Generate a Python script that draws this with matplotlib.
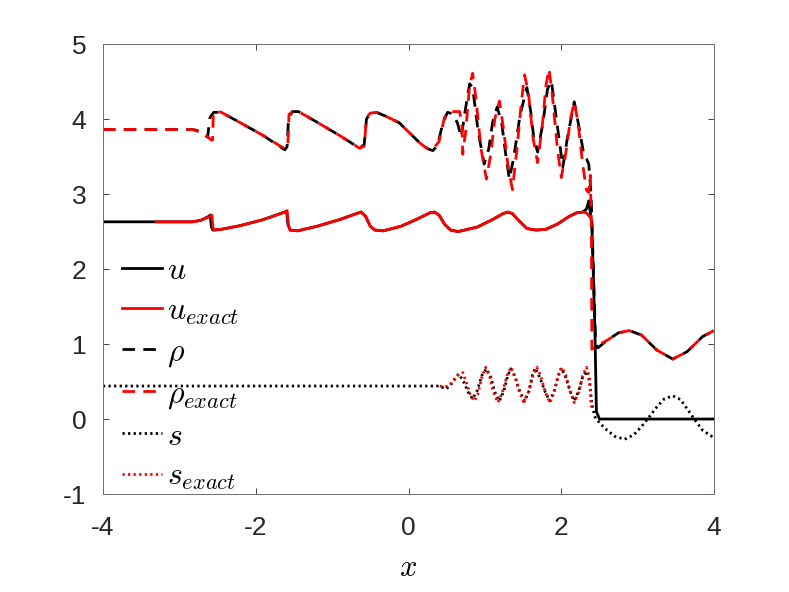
import matplotlib
matplotlib.use("Agg")
import matplotlib.pyplot as plt

plt.rcParams['font.family'] = ['Liberation Sans', 'DejaVu Sans']
plt.rcParams['mathtext.fontset'] = 'cm'
plt.rcParams['axes.unicode_minus'] = False

# numerical u
u_x = [-4.0, -2.83, -2.72, -2.62, -2.595, -2.58, -2.56, -2.45, -2.2, -1.9, -1.62, -1.595,
       -1.58, -1.55, -1.45, -1.2, -0.9, -0.68, -0.62, -0.56, -0.50, -0.44, -0.33, -0.1,
       0.1, 0.28, 0.34, 0.40, 0.47, 0.55, 0.65, 0.9, 1.1, 1.24, 1.30, 1.36, 1.44, 1.55,
       1.67, 1.8, 1.95, 2.1, 2.2, 2.28, 2.33, 2.36, 2.40, 2.44, 2.46, 2.50, 4.0]
u_y = [2.63, 2.63, 2.65, 2.70, 2.72, 2.56, 2.52, 2.53, 2.58, 2.66, 2.76, 2.77,
       2.60, 2.52, 2.51, 2.57, 2.66, 2.74, 2.76, 2.70, 2.57, 2.52, 2.51, 2.57,
       2.66, 2.75, 2.76, 2.72, 2.60, 2.52, 2.50, 2.56, 2.66, 2.74, 2.76, 2.74, 2.65, 2.54,
       2.52, 2.53, 2.60, 2.70, 2.75, 2.76, 2.80, 2.91, 2.60, 1.20, 0.10, 0.0, 0.0]

# exact u
ue_x = [-3.30, -2.83, -2.72, -2.60, -2.575, -2.56, -2.54, -2.45, -2.2, -1.9, -1.62, -1.59,
        -1.57, -1.55, -1.45, -1.2, -0.9, -0.68, -0.62, -0.56, -0.50, -0.44, -0.33, -0.1,
        0.1, 0.28, 0.34, 0.40, 0.47, 0.55, 0.65, 0.9, 1.1, 1.24, 1.30, 1.36, 1.44, 1.55,
        1.67, 1.8, 1.95, 2.1, 2.2, 2.28, 2.33, 2.37]
ue_y = [2.63, 2.63, 2.65, 2.70, 2.72, 2.55, 2.52, 2.53, 2.58, 2.66, 2.76, 2.78,
        2.58, 2.52, 2.51, 2.57, 2.66, 2.74, 2.76, 2.70, 2.57, 2.52, 2.51, 2.57,
        2.66, 2.75, 2.76, 2.72, 2.60, 2.52, 2.50, 2.56, 2.66, 2.74, 2.76, 2.74, 2.65, 2.54,
        2.52, 2.53, 2.60, 2.70, 2.75, 2.76, 2.75, 2.70]

# numerical rho
r_x = [-4.0, -2.82, -2.74, -2.66, -2.63, -2.60, -2.55, -2.45, -2.2, -1.9, -1.68, -1.62,
       -1.59, -1.57, -1.52, -1.44, -1.2, -0.9, -0.70, -0.64, -0.58, -0.55, -0.50, -0.42,
       -0.30, -0.12, 0.01, 0.15, 0.26, 0.32, 0.38, 0.45, 0.51, 0.58, 0.64, 0.69, 0.74,
       0.80, 0.84, 0.91, 0.99, 1.05, 1.10, 1.16, 1.22, 1.27, 1.32, 1.38, 1.46, 1.55,
       1.60, 1.64, 1.69, 1.76, 1.82, 1.87, 1.93, 2.02, 2.08, 2.17, 2.24, 2.30, 2.33,
       2.36, 2.39, 2.42, 2.45, 2.48, 2.6, 2.75, 2.89, 3.05, 3.25, 3.46, 3.65, 3.85, 4.0]
r_y = [3.86, 3.86, 3.84, 3.78, 3.76, 4.02, 4.09, 4.09, 3.95, 3.78, 3.63, 3.59,
       3.63, 4.02, 4.10, 4.10, 3.96, 3.78, 3.65, 3.61, 3.66, 4.00, 4.08, 4.09,
       4.04, 3.95, 3.82, 3.68, 3.60, 3.58, 3.65, 3.95, 4.09, 4.07, 3.95, 3.76, 4.10,
       4.47, 4.42, 3.85, 3.40, 3.60, 3.95, 4.16, 3.95, 3.55, 3.20, 3.50, 4.05, 4.42,
       4.10, 3.75, 3.56, 3.95, 4.40, 4.51, 4.05, 3.36, 3.75, 4.23, 3.85, 3.50, 3.47,
       3.40, 3.00, 2.00, 1.00, 0.95, 1.05, 1.15, 1.18, 1.12, 0.92, 0.80, 0.90, 1.10, 1.18]

# exact rho
re_x = [-4.0, -2.82, -2.74, -2.65, -2.58, -2.565, -2.555, -2.52, -2.45, -2.2, -1.9, -1.68,
        -1.62, -1.58, -1.565, -1.52, -1.44, -1.2, -0.9, -0.70, -0.64, -0.58, -0.55, -0.50,
        -0.42, -0.30, -0.12, 0.01, 0.15, 0.24, 0.31, 0.40, 0.47, 0.53, 0.67, 0.70, 0.71,
        0.75, 0.80, 0.84, 0.88, 0.95, 1.02, 1.08, 1.13, 1.19, 1.24, 1.30, 1.36, 1.42,
        1.48, 1.52, 1.57, 1.63, 1.69, 1.75, 1.80, 1.84, 1.88, 1.95, 2.00, 2.06, 2.12,
        2.17, 2.22, 2.28, 2.33, 2.36, 2.38, 2.395, 2.40, 2.45, 2.6, 2.75, 2.89, 3.05,
        3.25, 3.46, 3.65, 3.85, 4.0]
re_y = [3.86, 3.86, 3.83, 3.78, 3.72, 3.72, 4.08, 4.11, 4.09, 3.95, 3.78, 3.64,
        3.61, 3.62, 4.06, 4.10, 4.10, 3.96, 3.78, 3.65, 3.61, 3.64, 4.02, 4.08,
        4.09, 4.04, 3.95, 3.82, 3.68, 3.61, 3.59, 3.70, 4.02, 4.10, 4.10, 3.90, 3.53,
        3.85, 4.45, 4.61, 4.30, 3.60, 3.20, 3.55, 4.00, 4.24, 3.90, 3.40, 3.06, 3.60,
        4.25, 4.59, 4.35, 3.75, 3.42, 3.90, 4.45, 4.67, 4.35, 3.60, 3.22, 3.55, 4.00,
        4.23, 3.95, 3.40, 3.05, 3.02, 3.25, 2.50, 0.93, 0.97, 1.05, 1.15, 1.18, 1.12,
        0.92, 0.80, 0.90, 1.10, 1.18]

# numerical s
s_x = [-4.0, 0.40, 0.45, 0.49, 0.55, 0.62, 0.66, 0.72, 0.78, 0.84, 0.90, 0.96, 1.02,
       1.08, 1.13, 1.19, 1.25, 1.30, 1.34, 1.40, 1.46, 1.52, 1.58, 1.62, 1.66, 1.72,
       1.79, 1.85, 1.91, 1.96, 2.00, 2.06, 2.12, 2.17, 2.23, 2.28, 2.33, 2.37, 2.40,
       2.44, 2.50, 2.60, 2.70, 2.83, 2.95, 3.05, 3.13, 3.25, 3.35, 3.46, 3.56, 3.66,
       3.74, 3.85, 4.0]
s_y = [0.44, 0.44, 0.42, 0.40, 0.45, 0.56, 0.60, 0.50, 0.36, 0.27, 0.38, 0.58, 0.67,
       0.55, 0.36, 0.24, 0.38, 0.58, 0.67, 0.55, 0.36, 0.24, 0.38, 0.58, 0.68, 0.55,
       0.36, 0.24, 0.38, 0.58, 0.68, 0.55, 0.36, 0.24, 0.38, 0.56, 0.64, 0.50, 0.20,
       0.03, -0.05, -0.15, -0.23, -0.27, -0.21, -0.10, 0.00, 0.16, 0.27, 0.31, 0.26, 0.12,
       0.00, -0.15, -0.25]

# exact s
se_x = [0.41, 0.46, 0.52, 0.60, 0.66, 0.71, 0.76, 0.81, 0.86, 0.91, 0.96, 1.01, 1.06,
        1.11, 1.17, 1.23, 1.29, 1.34, 1.39, 1.45, 1.51, 1.57, 1.63, 1.68, 1.73, 1.79,
        1.85, 1.91, 1.96, 2.01, 2.06, 2.12, 2.17, 2.23, 2.28, 2.33, 2.37, 2.385, 2.39]
se_y = [0.44, 0.43, 0.44, 0.52, 0.60, 0.62, 0.48, 0.32, 0.24, 0.34, 0.56, 0.69, 0.58,
        0.36, 0.22, 0.36, 0.58, 0.69, 0.58, 0.36, 0.23, 0.36, 0.58, 0.69, 0.58, 0.36,
        0.22, 0.36, 0.58, 0.69, 0.58, 0.36, 0.22, 0.36, 0.58, 0.69, 0.55, 0.30, 0.16]

fig = plt.figure(figsize=(7.89, 5.92), dpi=100)
ax = fig.add_axes([0.1305, 0.1655, 0.7745, 0.76])

lw = 2.0
ax.plot(u_x, u_y, '-', color='k', lw=lw, label='$u$')
ax.plot(ue_x, ue_y, '-', color='r', lw=lw, label='$u_{exact}$')
ax.plot(r_x, r_y, '--', color='k', lw=lw, dashes=(4.5, 3), label=r'$\rho$')
ax.plot(re_x, re_y, '--', color='r', lw=lw, dashes=(4.5, 3), label=r'$\rho_{exact}$')
ax.plot(s_x, s_y, ':', color='k', lw=lw, dashes=(0.8, 1.2), label='$s$')
ax.plot(se_x, se_y, ':', color='r', lw=lw, dashes=(0.8, 1.2), label='$s_{exact}$')

ax.set_xlim(-4, 4)
ax.set_ylim(-1, 5)
ax.set_xticks([-4, -2, 0, 2, 4])
ax.set_xticklabels(['-4', '-2', '0', '2', '4'])
ax.set_yticks([-1, 0, 1, 2, 3, 4, 5])
ax.set_yticklabels(['-1', '0', '1', '2', '3', '4', '5'])
ax.tick_params(direction='in', length=4.3, width=0.6, top=True, right=True,
               labelsize=19, colors='#262626')
ax.tick_params(axis='x', pad=16)
ax.tick_params(axis='y', pad=12)
for sp in ax.spines.values():
    sp.set_color('#6e6e6e')
    sp.set_linewidth(0.7)
ax.set_xlabel('$x$', fontsize=22, labelpad=9)

ax.legend(loc='lower left', bbox_to_anchor=(0.01, -0.025), frameon=False, fontsize=23,
          handlelength=1.25, handletextpad=0.15, labelspacing=0.33, borderaxespad=0.0)

fig.savefig('out.png', dpi=100)
